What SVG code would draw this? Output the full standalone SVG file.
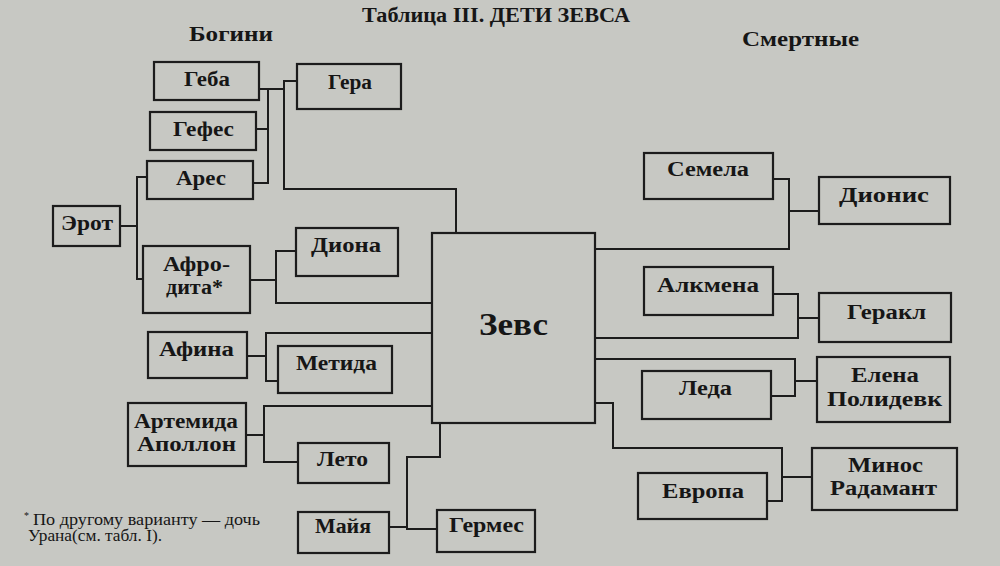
<svg xmlns="http://www.w3.org/2000/svg" width="1000" height="566" viewBox="0 0 1000 566">
<defs>
<style>
.bg{fill:#c7c8c3}
.box{fill:none;stroke:#1c1c1c;stroke-width:2.2}
.ln{fill:none;stroke:#1c1c1c;stroke-width:2;stroke-linejoin:miter}
text{font-family:"Liberation Serif","Times New Roman",serif;fill:#161616}
.lb{font-size:20px;font-weight:bold;text-anchor:middle;dominant-baseline:central}
.hd{font-size:20px;font-weight:bold}
.fn{font-size:16px}
</style>
</defs>
<rect class="bg" x="0" y="0" width="1000" height="566"/>

<text class="hd" x="362" y="22" textLength="268" lengthAdjust="spacingAndGlyphs">Таблица III. ДЕТИ ЗЕВСА</text>
<text class="hd" x="189" y="41" textLength="84" lengthAdjust="spacingAndGlyphs">Богини</text>
<text class="hd" x="742" y="46" textLength="117" lengthAdjust="spacingAndGlyphs">Смертные</text>

<g id="connectors">
<polyline class="ln" points="259,89 284,89"/>
<polyline class="ln" points="268,89 268,183 253,183"/>
<polyline class="ln" points="256,129 268,129"/>
<polyline class="ln" points="297,81 284,81 284,189 456,189 456,233"/>
<polyline class="ln" points="120,226 137,226"/>
<polyline class="ln" points="147,177 137,177 137,279 143,279"/>
<polyline class="ln" points="250,280 276,280"/>
<polyline class="ln" points="296,251 276,251 276,303 432,303"/>
<polyline class="ln" points="247,356 266,356"/>
<polyline class="ln" points="432,333 266,333 266,381 278,381"/>
<polyline class="ln" points="246,435 264,435"/>
<polyline class="ln" points="432,406 264,406 264,462 298,462"/>
<polyline class="ln" points="440,423 440,457 407,457 407,529 437,529"/>
<polyline class="ln" points="389,527 407,527"/>
<polyline class="ln" points="595,249 789,249 789,179 773,179"/>
<polyline class="ln" points="789,211 819,211"/>
<polyline class="ln" points="595,338 798,338 798,294 773,294"/>
<polyline class="ln" points="798,318 819,318"/>
<polyline class="ln" points="595,359 795,359 795,396 771,396"/>
<polyline class="ln" points="795,381 817,381"/>
<polyline class="ln" points="595,403 613,403 613,448 782,448 782,501 767,501"/>
<polyline class="ln" points="782,477 812,477"/>
</g>

<g id="zeus"><rect class="box" x="432" y="233" width="163" height="190"/>
<text class="lb" x="513.5" y="324" style="font-size:31px" textLength="69" lengthAdjust="spacingAndGlyphs">Зевс</text></g>

<g id="geba"><rect class="box" x="154" y="62" width="105" height="38"/>
<text class="lb" x="207" y="79" textLength="46" lengthAdjust="spacingAndGlyphs">Геба</text></g>
<g id="gefes"><rect class="box" x="150" y="112" width="106" height="38"/>
<text class="lb" x="203.5" y="129" textLength="61" lengthAdjust="spacingAndGlyphs">Гефес</text></g>
<g id="ares"><rect class="box" x="147" y="161" width="106" height="38"/>
<text class="lb" x="201" y="178" textLength="50" lengthAdjust="spacingAndGlyphs">Арес</text></g>
<g id="erot"><rect class="box" x="53" y="206" width="67" height="40"/>
<text class="lb" x="87" y="223" textLength="52" lengthAdjust="spacingAndGlyphs">Эрот</text></g>
<g id="gera"><rect class="box" x="297" y="64" width="104" height="45"/>
<text class="lb" x="350" y="82" textLength="44" lengthAdjust="spacingAndGlyphs">Гера</text></g>
<g id="diona"><rect class="box" x="296" y="228" width="102" height="48"/>
<text class="lb" x="346" y="245" textLength="70" lengthAdjust="spacingAndGlyphs">Диона</text></g>
<g id="afrodita"><rect class="box" x="143" y="246" width="107" height="67"/>
<text class="lb" x="196.5" y="264" textLength="67" lengthAdjust="spacingAndGlyphs">Афро-</text>
<text class="lb" x="194.5" y="287" textLength="57" lengthAdjust="spacingAndGlyphs">дита*</text></g>
<g id="afina"><rect class="box" x="148" y="332" width="99" height="46"/>
<text class="lb" x="196.5" y="349" textLength="75" lengthAdjust="spacingAndGlyphs">Афина</text></g>
<g id="metida"><rect class="box" x="278" y="346" width="114" height="47"/>
<text class="lb" x="336.5" y="363" textLength="81" lengthAdjust="spacingAndGlyphs">Метида</text></g>
<g id="artemida"><rect class="box" x="128" y="403" width="118" height="63"/>
<text class="lb" x="186" y="421" textLength="104" lengthAdjust="spacingAndGlyphs">Артемида</text>
<text class="lb" x="186.5" y="444" textLength="99" lengthAdjust="spacingAndGlyphs">Аполлон</text></g>
<g id="leto"><rect class="box" x="298" y="443" width="91" height="40"/>
<text class="lb" x="342.5" y="459" textLength="51" lengthAdjust="spacingAndGlyphs">Лето</text></g>
<g id="maia"><rect class="box" x="298" y="512" width="91" height="41"/>
<text class="lb" x="343" y="526" textLength="56" lengthAdjust="spacingAndGlyphs">Майя</text></g>
<g id="germes"><rect class="box" x="437" y="510" width="98" height="42"/>
<text class="lb" x="486.5" y="525" textLength="75" lengthAdjust="spacingAndGlyphs">Гермес</text></g>

<g id="semela"><rect class="box" x="644" y="153" width="129" height="46"/>
<text class="lb" x="708" y="169" textLength="82" lengthAdjust="spacingAndGlyphs">Семела</text></g>
<g id="dionis"><rect class="box" x="819" y="177" width="131" height="47"/>
<text class="lb" x="884" y="195" textLength="90" lengthAdjust="spacingAndGlyphs">Дионис</text></g>
<g id="alkmena"><rect class="box" x="644" y="267" width="129" height="48"/>
<text class="lb" x="708" y="285" textLength="102" lengthAdjust="spacingAndGlyphs">Алкмена</text></g>
<g id="gerakl"><rect class="box" x="819" y="293" width="132" height="49"/>
<text class="lb" x="886.5" y="312" textLength="79" lengthAdjust="spacingAndGlyphs">Геракл</text></g>
<g id="leda"><rect class="box" x="642" y="371" width="129" height="48"/>
<text class="lb" x="705.5" y="388" textLength="53" lengthAdjust="spacingAndGlyphs">Леда</text></g>
<g id="elena"><rect class="box" x="817" y="357" width="133" height="65"/>
<text class="lb" x="885" y="375" textLength="68" lengthAdjust="spacingAndGlyphs">Елена</text>
<text class="lb" x="884.5" y="399" textLength="115" lengthAdjust="spacingAndGlyphs">Полидевк</text></g>
<g id="evropa"><rect class="box" x="638" y="473" width="129" height="46"/>
<text class="lb" x="703" y="491" textLength="82" lengthAdjust="spacingAndGlyphs">Европа</text></g>
<g id="minos"><rect class="box" x="812" y="448" width="145" height="62"/>
<text class="lb" x="885.5" y="465" textLength="75" lengthAdjust="spacingAndGlyphs">Минос</text>
<text class="lb" x="883.5" y="488" textLength="107" lengthAdjust="spacingAndGlyphs">Радамант</text></g>

<g id="footnote">
<text class="fn" x="24" y="519" style="font-size:10px">*</text>
<text class="fn" x="33" y="525" textLength="227" lengthAdjust="spacingAndGlyphs">По другому варианту — дочь</text>
<text class="fn" x="28" y="541" textLength="134" lengthAdjust="spacingAndGlyphs">Урана(см. табл. I).</text>
</g>
</svg>
